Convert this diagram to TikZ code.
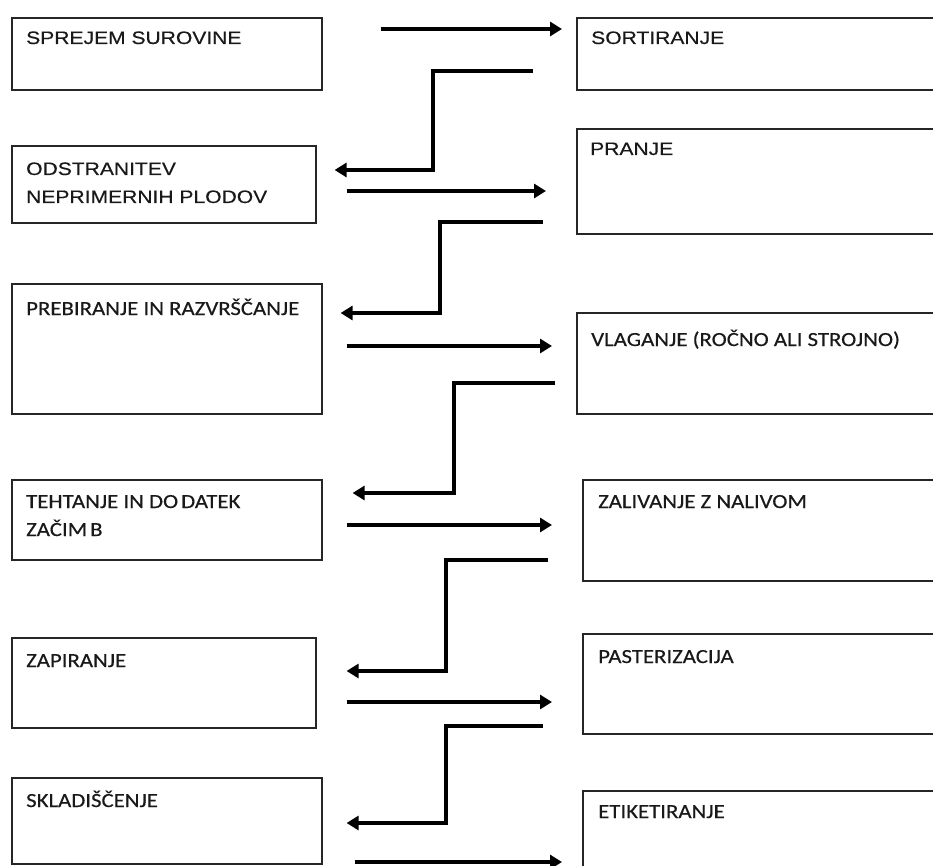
\documentclass[tikz,border=0pt]{standalone}
\usepackage{fontspec}
\newfontfamily\arialf[FakeStretch=1.17,FakeBold=0.4]{Liberation Sans}
\newfontfamily\calf[FakeStretch=1.14,FakeBold=0.4]{Carlito}
\usetikzlibrary{arrows.meta}
\begin{document}
\begin{tikzpicture}[x=1pt,y=-1pt,
  box/.style={draw=black!85,line width=1.6pt,anchor=north west,inner sep=0pt},
  lbl/.style={anchor=base west,inner sep=0pt,text=black!90},
  ta/.style={lbl,font=\arialf\fontsize{18}{20}\selectfont},
  tc/.style={lbl,font=\calf\fontsize{20}{22}\selectfont},
  flow/.style={line width=3.8pt,-{Triangle[length=12pt,width=14pt]}}]
\clip (0,0) rectangle (933,866);
\fill[white] (0,0) rectangle (933,866);

% left column
\node[box,minimum width=310pt,minimum height=72pt]  (a1) at (11,17)  {};
\node[box,minimum width=304pt,minimum height=77pt]  (a2) at (11,145) {};
\node[box,minimum width=310pt,minimum height=130pt] (a3) at (11,283) {};
\node[box,minimum width=310pt,minimum height=80pt]  (a4) at (11,479) {};
\node[box,minimum width=304pt,minimum height=90pt]  (a5) at (11,637) {};
\node[box,minimum width=310pt,minimum height=86pt]  (a6) at (11,777) {};

% right column
\node[box,minimum width=364pt,minimum height=72pt]  (b1) at (576,17)  {};
\node[box,minimum width=364pt,minimum height=105pt] (b2) at (576,128) {};
\node[box,minimum width=364pt,minimum height=101pt] (b3) at (576,312) {};
\node[box,minimum width=358pt,minimum height=101pt] (b4) at (582,479) {};
\node[box,minimum width=358pt,minimum height=100pt] (b5) at (582,633) {};
\node[box,minimum width=358pt,minimum height=90pt]  (b6) at (582,790) {};

% labels
\node[ta] (ta1)  at (26,44)  {SPREJEM SUROVINE};
\node[ta] (ta2a) at (26,175) {ODSTRANITEV};
\node[ta] (ta2b) at (26,203) {NEPRIMERNIH PLODOV};
\node[tc] (ta3)  at (26,315) {PREBIRANJE IN RAZVRŠČANJE};
\node[tc] (ta4a) at (26,508) {TEHTANJE IN DO\kern3pt DATEK};
\node[tc] (ta4b) at (26,536) {ZAČIM\kern3pt B};
\node[tc] (ta5)  at (26,667) {ZAPIRANJE};
\node[tc] (ta6)  at (26,807) {SKLADIŠČENJE};

\node[ta] (tb1) at (591,44)  {SORTIRANJE};
\node[ta] (tb2) at (590,155) {PRANJE};
\node[tc] (tb3) at (591,346) {VLAGANJE (ROČNO ALI STROJNO)};
\node[tc] (tb4) at (598,508) {ZALIVANJE Z NALIVOM};
\node[tc] (tb5) at (598,663) {PASTERIZACIJA};
\node[tc] (tb6) at (598,818) {ETIKETIRANJE};

% left-to-right arrows
\draw[flow,shorten <=58pt,shorten >=14pt] (a1.east |- 0,29)  -- (b1.west |- 0,29);
\draw[flow,shorten <=30pt,shorten >=30pt] (a2.east |- 0,191) -- (b2.west |- 0,191);
\draw[flow,shorten <=24pt,shorten >=24pt] (a3.east |- 0,346) -- (b3.west |- 0,346);
\draw[flow,shorten <=24pt,shorten >=30pt] (a4.east |- 0,525) -- (b4.west |- 0,525);
\draw[flow,shorten <=30pt,shorten >=30pt] (a5.east |- 0,702) -- (b5.west |- 0,702);
\draw[flow,shorten <=32pt,shorten >=20pt] (a6.east |- 0,862) -- (b6.west |- 0,862);

% stepped return arrows
\draw[flow,shorten <=43pt,shorten >=18pt] (b1.west |- 0,71)  -| (433,170) -- (a2.east |- 0,170);
\draw[flow,shorten <=33pt,shorten >=18pt] (b2.west |- 0,222) -| (440,313) -- (a3.east |- 0,313);
\draw[flow,shorten <=21pt,shorten >=30pt] (b3.west |- 0,383) -| (454,493) -- (a4.east |- 0,493);
\draw[flow,shorten <=34pt,shorten >=30pt] (b4.west |- 0,560) -| (446,671) -- (a5.east |- 0,671);
\draw[flow,shorten <=39pt,shorten >=24pt] (b5.west |- 0,726) -| (446,823) -- (a6.east |- 0,823);
\end{tikzpicture}
\end{document}
